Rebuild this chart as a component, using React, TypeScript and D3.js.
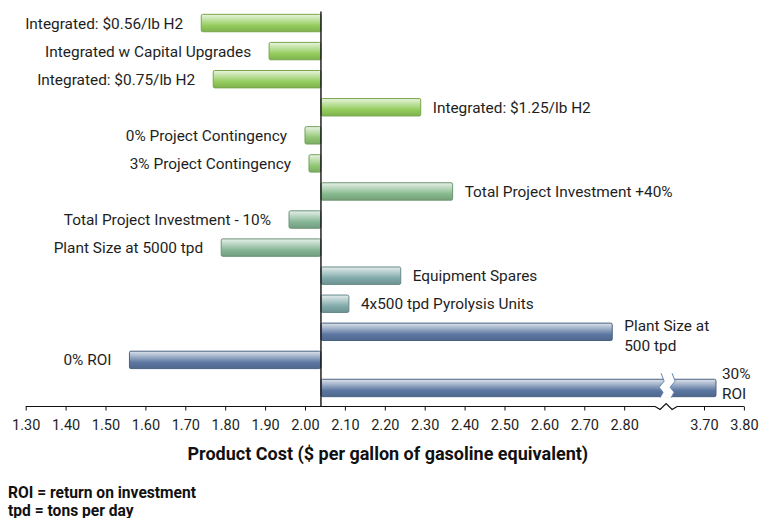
import React, { useRef, useEffect } from "react";
import * as d3 from "d3";

// sensitivity cases, top to bottom
const scenarios = [
  "Integrated: $0.56/lb H2",
  "Integrated w Capital Upgrades",
  "Integrated: $0.75/lb H2",
  "Integrated: $1.25/lb H2",
  "0% Project Contingency",
  "3% Project Contingency",
  "Total Project Investment +40%",
  "Total Project Investment - 10%",
  "Plant Size at 5000 tpd",
  "Equipment Spares",
  "4x500 tpd Pyrolysis Units",
  "Plant Size at\n500 tpd",
  "0% ROI",
  "30%\nROI",
];
// product cost for each case ($/gge)
const productCost = [1.74, 1.91, 1.77, 2.29, 2.0, 2.01, 2.37, 1.96, 1.79, 2.24, 2.11, 2.77, 1.56, 3.73];
const baseCost = 2.04;

const tickValues = [1.3, 1.4, 1.5, 1.6, 1.7, 1.8, 1.9, 2.0, 2.1, 2.2, 2.3, 2.4, 2.5, 2.6, 2.7, 2.8, 3.7, 3.8];
const axisBreak = [2.9, 3.6];

// bar colours, fading green -> teal -> blue down the chart
const rowColors = [
  "#93cc5c", "#93cc5c", "#93cc5c", "#93cc5c",
  "#8fc672", "#8fc672",
  "#86b98c", "#84b594", "#84b594",
  "#7fa8a8", "#7fa8a8",
  "#5b77a1", "#5b77a1", "#5b77a1",
];

const FONT = "Roboto, 'Noto Sans', sans-serif";

const App = () => {
  const ref = useRef<SVGSVGElement>(null);

  useEffect(() => {
    const svg = d3.select(ref.current);
    svg.selectAll("*").remove();

    const left = 25.7;
    const pxPerUnit = 399; // 39.9px per 0.10
    const breakPx = left + (axisBreak[0] - 1.3) * pxPerUnit;
    const x = d3
      .scaleLinear()
      .domain([1.3, axisBreak[0], axisBreak[1], 3.8])
      .range([left, breakPx, breakPx, breakPx + (3.8 - axisBreak[1]) * pxPerUnit]);

    const y = d3.scaleBand<string>().domain(scenarios).range([9, 402]).paddingInner(0.38).paddingOuter(0.19);
    const bw = y.bandwidth();
    const axisY = 406.5;

    // gradients
    const defs = svg.append("defs");
    rowColors.forEach((c, i) => {
      const g = defs.append("linearGradient").attr("id", `bar${i}`).attr("x1", 0).attr("y1", 0).attr("x2", 0).attr("y2", 1);
      g.append("stop").attr("offset", "0%").attr("stop-color", d3.interpolateRgb(c, "#fff")(0.8));
      g.append("stop").attr("offset", "20%").attr("stop-color", d3.interpolateRgb(c, "#fff")(0.55));
      g.append("stop").attr("offset", "65%").attr("stop-color", c);
      g.append("stop").attr("offset", "100%").attr("stop-color", d3.color(c)!.darker(0.4).formatHex());
    });

    // bars
    svg.append("g")
      .selectAll("rect")
      .data(productCost)
      .join("rect")
      .attr("x", (d) => Math.min(x(d), x(baseCost)))
      .attr("y", (d, i) => y(scenarios[i])!)
      .attr("width", (d) => Math.abs(x(d) - x(baseCost)))
      .attr("height", bw)
      .attr("rx", 1.5)
      .attr("fill", (d, i) => `url(#bar${i})`)
      .attr("stroke", (d, i) => d3.color(rowColors[i])!.darker(0.6).formatHex())
      .attr("stroke-width", 1);

    // break in the long 30% ROI bar
    const cx = breakPx + 2;
    const last = scenarios.length - 1;
    const yt = y(scenarios[last])!;
    const yb = yt + bw;
    const leftZig: [number, number][] = [
      [cx - 5, yt - 6], [cx - 2, yt + 2], [cx - 7, yt + 8], [cx - 3, yt + 13], [cx - 6, yb + 1],
    ];
    const rightZig = leftZig.map(([px, py]) => [px + 11, py] as [number, number]);
    svg.append("polygon")
      .attr("points", [...leftZig, ...rightZig.slice().reverse()].map((p) => p.join(",")).join(" "))
      .attr("fill", "#fff");
    const zigColor = d3.color(rowColors[last])!.brighter(0.3).formatHex();
    [leftZig, rightZig].forEach((pts) =>
      svg.append("path").attr("d", d3.line()(pts)).attr("fill", "none").attr("stroke", zigColor).attr("stroke-width", 1)
    );

    // baseline
    svg.append("line")
      .attr("x1", x(baseCost)).attr("x2", x(baseCost))
      .attr("y1", 11.5).attr("y2", axisY)
      .attr("stroke", "#111").attr("stroke-width", 1.4);

    // bar labels
    const labels = svg.append("g").attr("font-family", FONT).attr("font-size", 15.4).attr("fill", "#1e1e1e");
    productCost.forEach((v, i) => {
      const lines = scenarios[i].split("\n");
      const neg = v < baseCost;
      const gap = neg ? 18 : i === last ? 6 : 12;
      const cy = y(scenarios[i])! + bw / 2 + (i === 11 ? 3.5 : i === last ? -5 : 0);
      const t = labels.append("text")
        .attr("x", neg ? x(v) - gap : x(v) + gap)
        .attr("text-anchor", neg ? "end" : "start");
      lines.forEach((ln, k) => {
        t.append("tspan")
          .attr("x", neg ? x(v) - gap : x(v) + gap)
          .attr("y", cy + (k - (lines.length - 1) / 2) * 20)
          .attr("dy", "0.36em")
          .text(ln);
      });
    });

    // x axis
    const axis = d3.axisBottom(x).tickValues(tickValues).tickFormat(d3.format(".2f")).tickSize(4).tickPadding(9);
    const ax = svg.append("g").attr("transform", `translate(0,${axisY})`).call(axis);
    ax.select(".domain").remove();
    ax.selectAll("line").attr("stroke", "#111");
    ax.selectAll("text").attr("font-family", FONT).attr("font-size", 14.5).attr("fill", "#1e1e1e");

    const axPath = d3.path();
    axPath.moveTo(x(1.3), 0);
    axPath.lineTo(cx - 11, 0);
    axPath.lineTo(cx - 6, 3);
    axPath.lineTo(cx, -3);
    axPath.lineTo(cx + 6, 3);
    axPath.lineTo(cx + 11, 0);
    axPath.lineTo(x(3.8), 0);
    ax.append("path").attr("d", axPath.toString()).attr("fill", "none").attr("stroke", "#111").attr("stroke-width", 1.2);

    svg.append("text")
      .attr("x", (x(1.3) + x(3.8)) / 2 + 3)
      .attr("y", 460)
      .attr("text-anchor", "middle")
      .attr("font-family", FONT).attr("font-weight", 700).attr("font-size", 18).attr("fill", "#111")
      .text("Product Cost ($ per gallon of gasoline equivalent)");

    // footnotes
    const notes = ["ROI = return on investment", "tpd = tons per day"];
    svg.append("g")
      .selectAll("text")
      .data(notes)
      .join("text")
      .attr("x", 8)
      .attr("y", (d, i) => 498 + i * 17.5)
      .attr("font-family", FONT).attr("font-weight", 700).attr("font-size", 15.6).attr("fill", "#111")
      .text((d) => d);
  }, []);

  return (
    <svg
      ref={ref}
      width={759}
      height={518}
      style={{ position: "absolute", left: 0, top: 0, background: "#fff" }}
    />
  );
};

export default App;
